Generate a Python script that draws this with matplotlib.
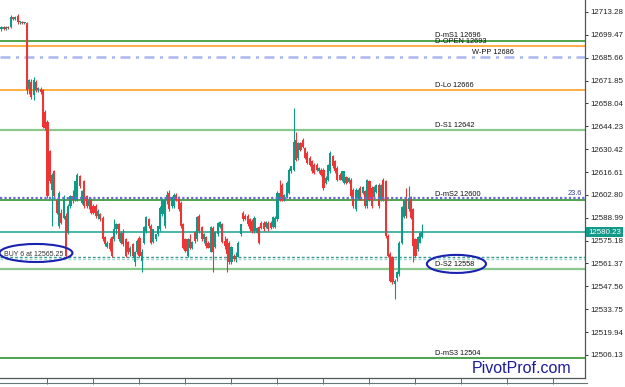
import numpy as np
import matplotlib.pyplot as plt
from matplotlib.patches import Ellipse
from matplotlib.lines import Line2D
import matplotlib.transforms as mtransforms

plt.rcParams['font.family'] = ['Liberation Sans', 'DejaVu Sans']

# candles (price)
opens = [12703, 12704, 12703, 12704, 12704, 12710, 12709, 12711, 12707, 12707.5,
         12706.5, 12706.5, 12667, 12671, 12663, 12671, 12666, 12667, 12666, 12653,
         12647, 12629, 12606, 12617, 12600, 12584, 12592, 12589, 12590, 12580,
         12596, 12602, 12600, 12600, 12614, 12598, 12611, 12602, 12596, 12600,
         12596, 12596, 12590, 12591, 12589, 12577.5, 12571.5, 12574, 12577.5, 12576,
         12582, 12585, 12574, 12580, 12576, 12574.5, 12568, 12573, 12562, 12568,
         12577, 12563, 12574, 12581, 12588, 12584, 12574.5, 12576, 12579, 12582,
         12591, 12584, 12600, 12604, 12596, 12596, 12603, 12601, 12598, 12585,
         12576, 12566, 12576, 12571, 12580.5, 12576, 12590, 12583.5, 12576, 12577.5,
         12574, 12568.5, 12583, 12571.5, 12579, 12583.5, 12585, 12575, 12576, 12574,
         12562, 12566, 12564, 12565.5, 12579, 12592, 12590, 12590, 12588, 12587,
         12581, 12580, 12583.5, 12586, 12586, 12583.5, 12586, 12586, 12583.5, 12583.5,
         12588, 12604, 12609, 12600, 12601.5, 12604, 12617, 12618, 12636, 12625,
         12634, 12636, 12631, 12628, 12625, 12623, 12621, 12621, 12617, 12618,
         12618, 12610, 12612, 12617, 12626, 12623, 12619, 12615, 12612, 12610,
         12613.5, 12610.5, 12612, 12606, 12594, 12601, 12607, 12604, 12605, 12596,
         12611, 12607, 12601.5, 12604.5, 12609, 12600, 12612, 12611, 12578, 12567,
         12565, 12549, 12552.5, 12555, 12574, 12589.5, 12600, 12594, 12601, 12594,
         12576, 12570, 12574, 12577.5]
highs = [12704.5, 12704.5, 12704.5, 12705, 12711.5, 12710.5, 12711, 12712, 12708, 12708,
         12707, 12707, 12673, 12673, 12674, 12672, 12668, 12668, 12667, 12654,
         12648, 12630, 12616, 12618, 12601, 12605, 12594, 12603, 12592, 12597,
         12603, 12606, 12611, 12616, 12615, 12606, 12612, 12603, 12601, 12601,
         12597, 12597, 12594, 12592, 12590, 12578, 12575, 12577, 12578, 12588,
         12586, 12586, 12581, 12582, 12577, 12575, 12572, 12574, 12569, 12576,
         12578, 12570, 12584, 12590, 12589, 12585, 12582, 12579, 12584, 12596,
         12601, 12601, 12605, 12606, 12602, 12604, 12604, 12602, 12599, 12586,
         12577, 12577, 12579, 12575, 12581, 12590, 12591, 12584, 12580, 12578,
         12575, 12584, 12584, 12581, 12586.5, 12587, 12586, 12578, 12577, 12575,
         12572, 12567, 12568, 12575, 12585, 12593, 12591, 12591, 12589, 12588,
         12590, 12583.5, 12584, 12587, 12587, 12587, 12587, 12587, 12590, 12590,
         12605, 12612, 12610, 12603.5, 12611, 12619, 12620.5, 12655, 12641, 12635,
         12635, 12637, 12632, 12629, 12626, 12624, 12622, 12622, 12619.5, 12619,
         12619, 12614, 12621.5, 12629, 12627, 12624, 12620, 12616, 12617.5, 12617.5,
         12614, 12613.5, 12613, 12607, 12607, 12606.5, 12608, 12608, 12606, 12612.5,
         12612, 12608, 12608, 12609.5, 12610, 12609.5, 12613, 12612, 12579, 12568,
         12566, 12552, 12557, 12575, 12596, 12600.5, 12607, 12608, 12602, 12595,
         12577, 12578, 12580.5, 12585]
lows = [12702, 12702.5, 12702.5, 12703, 12703.5, 12708.5, 12708.5, 12706, 12706, 12706,
        12706, 12664, 12664, 12661, 12660, 12665, 12665, 12664, 12643, 12642,
        12601, 12610, 12584, 12601, 12591, 12583, 12585, 12588, 12565, 12579,
        12595, 12598, 12599, 12599, 12607, 12597, 12595, 12595, 12594, 12591,
        12591, 12589, 12588, 12587, 12575, 12572, 12571, 12569, 12565, 12575,
        12579, 12575, 12573, 12572, 12565, 12567, 12566, 12565, 12560, 12567,
        12565, 12556, 12573, 12580, 12583, 12573, 12574, 12575, 12578, 12581,
        12590, 12583, 12597, 12593, 12595, 12595, 12599, 12593, 12583, 12570,
        12568, 12565, 12570, 12570, 12574, 12575, 12580, 12575, 12574, 12571,
        12570.5, 12568, 12556.5, 12571, 12578, 12583, 12574, 12570, 12556, 12561,
        12561, 12563, 12562, 12565, 12578, 12587, 12587.5, 12584, 12581, 12580,
        12580, 12579.5, 12573, 12582, 12581, 12583, 12581, 12582, 12583, 12583,
        12587, 12599, 12599, 12599, 12601, 12603.5, 12616, 12617, 12623, 12624,
        12629.5, 12631, 12624.5, 12621.5, 12620, 12616, 12615.5, 12617.5, 12616, 12614.5,
        12606, 12609.5, 12611, 12616, 12619, 12616, 12611, 12611.5, 12611, 12609.5,
        12609.5, 12610, 12601, 12595, 12593, 12600.5, 12599.5, 12603.5, 12595, 12595,
        12599, 12595, 12601, 12604, 12595, 12599, 12599, 12577, 12565, 12550,
        12549, 12540, 12551, 12554, 12573, 12589, 12589, 12593, 12588.5, 12562,
        12565, 12569, 12573.5, 12577]
closes = [12704, 12703, 12704, 12703.5, 12710.5, 12709, 12710.5, 12707, 12707.5, 12706.5,
          12706.5, 12666, 12672, 12662, 12672, 12666, 12667.5, 12665, 12644, 12643,
          12602, 12611, 12615, 12602, 12592, 12604, 12586, 12600, 12566, 12596,
          12602, 12600, 12611, 12615, 12608, 12605, 12596, 12596, 12600, 12592,
          12592, 12590, 12593, 12588, 12576, 12573, 12574, 12570, 12566, 12582,
          12585, 12576, 12580, 12573, 12566, 12568, 12571, 12566, 12568, 12575,
          12566, 12568, 12583.5, 12589.5, 12584, 12574, 12582, 12579, 12584, 12595,
          12600, 12600, 12603, 12594, 12601.5, 12603, 12600, 12594, 12584, 12571,
          12569, 12576, 12571, 12574.5, 12575, 12589.5, 12581, 12576, 12579, 12572,
          12571, 12583.5, 12568, 12580.5, 12586, 12586.5, 12574.5, 12572, 12567, 12562,
          12571.5, 12564, 12566, 12574, 12585, 12588, 12588, 12585, 12582, 12581,
          12589, 12583, 12574, 12583, 12582, 12586.5, 12582, 12583, 12589.5, 12589,
          12604, 12600, 12600, 12603, 12610, 12618, 12620, 12635, 12624, 12634,
          12630, 12631.5, 12625, 12622, 12621, 12617, 12616, 12618, 12619, 12615,
          12607, 12613, 12621, 12628, 12620, 12617, 12612, 12612, 12617, 12617,
          12610, 12613, 12602, 12596, 12606, 12606, 12600, 12607.5, 12596, 12612,
          12600, 12596, 12607.5, 12609, 12596, 12609, 12600, 12578, 12566, 12551,
          12550, 12551, 12556, 12574, 12595.5, 12600, 12590, 12601, 12589, 12572,
          12566, 12577.5, 12580, 12580.23]

# pivot levels
level_labels = ["D-mS1 12696", "D-OPEN 12693", "W-PP 12686", "D-Lo 12666",
                "D-S1 12642", "D-mS2 12600", "D-S2 12558", "D-mS3 12504"]
level_values = [12696, 12693, 12686, 12666, 12642, 12600, 12558, 12504]
level_colors = ["#1e8c1e", "#ff9a10", "#a9b6f2", "#ff9a10",
                "#8cc88c", "#1e8c1e", "#8cc88c", "#1e8c1e"]
level_styles = ["-", "-", (0, (4, 2.2, 1.2, 2.2)), "-", "-", "-", "-", "-"]
level_widths = [1.1, 1.1, 1.8, 1.1, 1.6, 1.1, 1.6, 1.1]
level_label_x = [188.5, 188.5, 204.5, 188.5, 188.5, 188.5, 188.5, 188.5]
level_label_dy = [2.6, 1.6, 2.2, 2.2, 2.2, 2.2, 2.2, 2.2]

fib_value = 12600.9
fib_label = "23.6"
current_price = 12580.23
order_prices = [12565.25, 12564.0]
order_label = "BUY 6 at 12565.25"
price_ticks = [12506.13, 12519.94, 12533.75, 12547.56, 12561.37, 12575.18,
               12588.99, 12602.80, 12616.61, 12630.42, 12644.23, 12658.04,
               12671.85, 12685.66, 12699.47, 12713.28]

bull_color = "#0f9a88"
bear_color = "#ee3535"

fig = plt.figure(figsize=(6.25, 3.87), dpi=100)
ax = fig.add_axes([0, 9 / 387, 585 / 625, 378 / 387])

# horizontal levels
for val, col, ls, lw in zip(level_values, level_colors, level_styles, level_widths):
    ax.axhline(val, color=col, ls=ls, lw=lw, zorder=1)
for lab, val, lx, dy in zip(level_labels, level_values, level_label_x, level_label_dy):
    ax.annotate(lab, (lx, val), xytext=(0, dy), textcoords="offset points",
                fontsize=5.3, color="#111111", va="baseline", zorder=4)

ax.axhline(current_price, color="#15a090", lw=1.1, zorder=1)
ax.axhline(order_prices[0], color="#3a9a92", lw=1.0, ls=(0, (2, 1.5)), zorder=1)
ax.axhline(order_prices[1], color="#a0d8d0", lw=1.0, ls=(0, (2, 1.5)), zorder=1)
ax.axhline(fib_value, color="#6a6ae0", lw=1.6, ls=(0, (1, 1)), zorder=3)
ax.annotate(fib_label, (252.5, fib_value), xytext=(0, 2.2), textcoords="offset points",
            fontsize=5.3, color="#3a3aa0", ha="right", va="baseline", zorder=4)

# candles
x = np.arange(len(closes))
o = np.array(opens)
h = np.array(highs)
l = np.array(lows)
c = np.array(closes)
cols = np.where(c >= o, bull_color, bear_color)
ax.vlines(x, l, h, colors=cols, lw=0.8, zorder=2)
body = np.maximum(np.abs(c - o), 0.6)
ax.bar(x, body, bottom=np.minimum(o, c), width=0.9, color=cols, lw=0, zorder=2)

# order label + ellipses
ax.annotate(order_label, (1.0, order_prices[0]), xytext=(0, 0.6), textcoords="offset points",
            fontsize=5.0, color="#333333", va="baseline", zorder=4)
ax.add_patch(Ellipse((15.0, 12567.7), 31.7, 10.9, fill=False, ec="#1a22b0", lw=1.5, zorder=5))
ax.add_patch(Ellipse((197.8, 12561.1), 25.7, 10.9, fill=False, ec="#1a22b0", lw=1.5, zorder=5))

ax.text(0.807, 0.014, "PivotProf.com", transform=ax.transAxes, fontsize=11.5,
        color="#1c1c96", va="baseline")

# current price box on the price scale
trans = mtransforms.blended_transform_factory(ax.transAxes, ax.transData)
ax.annotate("%.2f" % current_price, (1, current_price), xycoords=trans,
            xytext=(2.2, 0), textcoords="offset points", fontsize=5.7, color="white",
            va="center", ha="left", annotation_clip=False, zorder=6,
            bbox=dict(boxstyle="square,pad=0.2", fc="#13998a", ec="none"))

ax.set_xlim(-0.65, 253.7)
ax.set_ylim(12492.2, 12720.5)
ax.yaxis.tick_right()
ax.set_yticks(price_ticks)
ax.set_yticklabels(["%.2f" % v for v in price_ticks])
ax.tick_params(axis="y", labelsize=5.7, length=2.5, width=0.7, pad=1.5,
               colors="#333333", labelcolor="#222222")
ax.set_xticks(np.arange(20, 254, 20))
ax.tick_params(axis="x", length=4, width=0.7, colors="#666666", labelbottom=False)
for side in ["top", "left"]:
    ax.spines[side].set_visible(False)
for side in ["right", "bottom"]:
    ax.spines[side].set_color("#555555")
    ax.spines[side].set_linewidth(0.9)

fig.add_artist(Line2D([0, 587 / 625], [4 / 387, 4 / 387], transform=fig.transFigure,
                      color="#667777", lw=0.8))

fig.savefig("out.png", dpi=100)
